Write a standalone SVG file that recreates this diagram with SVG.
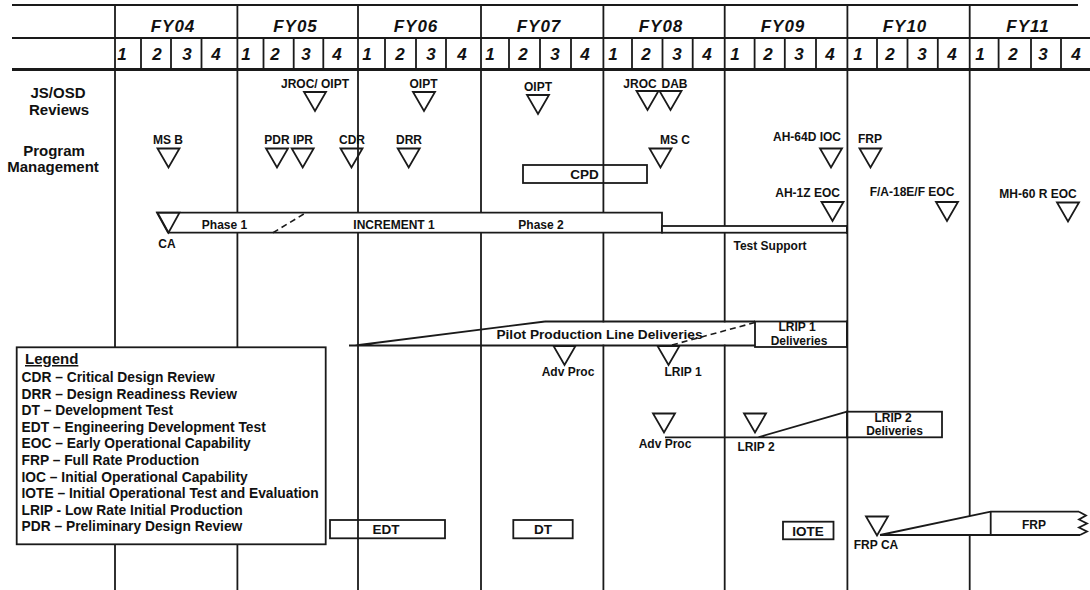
<svg xmlns="http://www.w3.org/2000/svg" width="1090" height="590" viewBox="0 0 1090 590">
<style>
.ln{stroke:#1a1a1a;stroke-width:1.8;fill:none}
.wf{stroke:#1a1a1a;stroke-width:1.8;fill:#fff}
.tri{stroke:#1a1a1a;stroke-width:1.8;fill:none}
.dash{stroke:#1a1a1a;stroke-width:1.6;fill:none;stroke-dasharray:6 4}
text{font-family:"Liberation Sans",Arial,sans-serif;font-weight:bold;fill:#111}
.s{font-size:12px;text-anchor:middle}
.m{font-size:13.5px;text-anchor:middle}
.fy{font-size:17px;font-style:italic;text-anchor:middle;letter-spacing:1px}
.q{font-size:17px;font-style:italic;text-anchor:middle}
.side{font-size:15px;text-anchor:middle}
.lg{font-size:13.8px}
</style>
<defs>
<path id="tri" class="tri" d="M-11,0 H11 L0,19 Z"/>
</defs>
<rect width="1090" height="590" fill="#fff"/>
<g id="grid" class="ln">
<line x1="12" y1="5" x2="1078" y2="5" stroke-width="2"/>
<line x1="12" y1="38" x2="1090" y2="38" stroke-width="2.2"/>
<line x1="12" y1="69.5" x2="1090" y2="69.5" stroke-width="3"/>
<line x1="115" y1="5" x2="115" y2="590"/>
<line x1="237.4" y1="5" x2="237.4" y2="590"/>
<line x1="358" y1="5" x2="358" y2="590"/>
<line x1="481" y1="5" x2="481" y2="590"/>
<line x1="603.4" y1="5" x2="603.4" y2="590"/>
<line x1="724.7" y1="5" x2="724.7" y2="590"/>
<line x1="847.4" y1="5" x2="847.4" y2="590"/>
<line x1="969.7" y1="5" x2="969.7" y2="590"/>
<path d="M141,38V69 M171,38V69 M201.5,38V69 M263.5,38V69 M293.7,38V69 M323.3,38V69 M385,38V69 M416,38V69 M446,38V69 M509,38V69 M540,38V69 M571,38V69 M632,38V69 M662.5,38V69 M692.7,38V69 M754.6,38V69 M784.8,38V69 M816,38V69 M877,38V69 M907.5,38V69 M937.8,38V69 M998.6,38V69 M1031,38V69 M1061,38V69"/>
</g>
<g id="header">
<text class="fy" x="173" y="32">FY04</text>
<text class="fy" x="295.5" y="32">FY05</text>
<text class="fy" x="416" y="32">FY06</text>
<text class="fy" x="539" y="32">FY07</text>
<text class="fy" x="661" y="32">FY08</text>
<text class="fy" x="783" y="32">FY09</text>
<text class="fy" x="905" y="32">FY10</text>
<text class="fy" x="1028" y="32">FY11</text>
<text class="q" y="59.5"><tspan x="122">1</tspan><tspan x="157">2</tspan><tspan x="187">3</tspan><tspan x="216">4</tspan><tspan x="246">1</tspan><tspan x="275">2</tspan><tspan x="306">3</tspan><tspan x="337">4</tspan><tspan x="367">1</tspan><tspan x="400">2</tspan><tspan x="431">3</tspan><tspan x="462">4</tspan><tspan x="490">1</tspan><tspan x="523">2</tspan><tspan x="555">3</tspan><tspan x="585">4</tspan><tspan x="613">1</tspan><tspan x="646">2</tspan><tspan x="677">3</tspan><tspan x="707">4</tspan><tspan x="735">1</tspan><tspan x="768">2</tspan><tspan x="799">3</tspan><tspan x="830">4</tspan><tspan x="858">1</tspan><tspan x="890">2</tspan><tspan x="922">3</tspan><tspan x="952">4</tspan><tspan x="980">1</tspan><tspan x="1013">2</tspan><tspan x="1043">3</tspan><tspan x="1076">4</tspan></text>
<text class="side" x="58" y="98">JS/OSD</text>
<text class="side" x="59" y="115">Reviews</text>
<text class="side" x="54" y="155.5">Program</text>
<text class="side" x="53" y="172">Management</text>
</g>
<g id="increment1">
<polygon class="wf" points="157,212.7 662,212.7 662,232.7 168,232.7"/>
<path class="tri" d="M157.5,212.7 H179.5 L168.5,232.7 Z"/>
<text class="s" x="167" y="247.5">CA</text>
<text class="s" x="224.5" y="228.5">Phase 1</text>
<text class="s" x="394" y="228.5">INCREMENT 1</text>
<text class="s" x="541" y="228.5">Phase 2</text>
</g>
<g id="test-support">
<rect class="wf" x="662" y="226" width="185" height="6.7"/>
<line class="ln" x1="847" y1="225" x2="847" y2="234" stroke-width="3"/>
<text class="s" x="770" y="249.5">Test Support</text>
</g>
<g id="js-osd-reviews">
<use href="#tri" x="315" y="92"/><text class="s" x="315" y="88">JROC/ OIPT</text>
<use href="#tri" x="424" y="92"/><text class="s" x="423.5" y="87.5">OIPT</text>
<use href="#tri" x="538" y="95"/><text class="s" x="538" y="91">OIPT</text>
<use href="#tri" x="647.5" y="91"/><text class="s" x="640" y="87.5">JROC</text>
<use href="#tri" x="670.5" y="91"/><text class="s" x="674.5" y="87.5">DAB</text>
</g>
<g id="program-management">
<use href="#tri" x="168.5" y="148.5"/><text class="s" x="168" y="143.5">MS B</text>
<use href="#tri" x="277" y="148.5"/><text class="s" x="277" y="143.5">PDR</text>
<use href="#tri" x="302.7" y="148.5"/><text class="s" x="303" y="143.5">IPR</text>
<use href="#tri" x="351.5" y="148.5"/><text class="s" x="352" y="143.5">CDR</text>
<use href="#tri" x="408.7" y="148.5"/><text class="s" x="409" y="143.5">DRR</text>
<use href="#tri" x="660.5" y="148.5"/><text class="s" x="675" y="143.5">MS C</text>
<use href="#tri" x="831" y="148.5"/><text class="s" x="807" y="141">AH-64D IOC</text>
<use href="#tri" x="870.5" y="148.5"/><text class="s" x="870" y="142.5">FRP</text>
<use href="#tri" x="832.5" y="202"/><text class="s" x="807.6" y="197">AH-1Z EOC</text>
<use href="#tri" x="947" y="202"/><text class="s" x="912" y="196">F/A-18E/F EOC</text>
<use href="#tri" x="1068" y="202.5"/><text class="s" x="1038" y="198">MH-60 R EOC</text>
</g>
<g id="cpd">
<rect class="ln" x="523" y="165" width="124" height="18"/>
<text class="m" x="584.5" y="179">CPD</text>
</g>
<g id="pilot-production">
<rect x="545" y="322.4" width="210" height="22.2" fill="#fff"/>
<path class="ln" d="M545,321.5 H755"/>
<text class="m" x="599.5" y="339" style="font-size:13.7px">Pilot Production Line Deliveries</text>
</g>
<g id="lrip1-deliveries">
<rect class="wf" x="755" y="321.5" width="92" height="25.5"/>
<line class="ln" x1="847" y1="320.5" x2="847" y2="348" stroke-width="3"/>
<text class="s" x="797" y="330.5">LRIP 1</text>
<text class="s" x="799" y="345">Deliveries</text>
</g>
<g id="adv-proc-1"><use href="#tri" x="564.5" y="346"/><text class="s" x="568" y="375.5">Adv Proc</text></g>
<g id="lrip1"><use href="#tri" x="668.5" y="346"/><text class="s" x="683" y="375.5">LRIP 1</text></g>
<g id="adv-proc-2"><use href="#tri" x="664" y="413.5"/><text class="s" x="665" y="447.5">Adv Proc</text></g>
<g id="lrip2"><use href="#tri" x="755" y="413.5"/><text class="s" x="756" y="451">LRIP 2</text></g>
<g id="lrip2-deliveries">
<rect class="wf" x="847" y="411.7" width="95" height="25.6"/>
<line class="ln" x1="847.4" y1="410.7" x2="847.4" y2="438.3" stroke-width="3"/>
<text class="s" x="893" y="421.5">LRIP 2</text>
<text class="s" x="894.5" y="435">Deliveries</text>
</g>
<g id="frp">
<polygon points="880,535 990.7,511.7 990.7,535" fill="#fff"/>
<rect x="990.7" y="512.5" width="88" height="21.7" fill="#fff"/>
<path class="ln" d="M880,535 H1080 M880,535 L990.7,511.7 H1079 M990.7,511.7 V535 M1079,511.7 L1086,515.5 L1079,519.5 L1087,523.5 L1079,527.5 L1087,531.5 L1080,535"/>
<text class="s" x="1034" y="528.5">FRP</text>
</g>
<g id="frp-ca"><use href="#tri" x="877" y="516.5"/><text class="s" x="876" y="548.5">FRP CA</text></g>
<g id="edt"><rect class="ln" x="330" y="520" width="115" height="18.3"/><text class="m" x="386" y="534">EDT</text></g>
<g id="dt"><rect class="ln" x="513.3" y="520" width="59.4" height="18.3"/><text class="m" x="543" y="534">DT</text></g>
<g id="iote"><rect class="ln" x="783" y="521.7" width="50.5" height="17.6"/><text class="m" x="808" y="536">IOTE</text></g>
<g id="connectors">
<path class="dash" d="M273,232.7 L305,213.3"/>
<path class="ln" d="M349,345.5 H755 M355,345.5 L545,321.5"/>
<path class="dash" d="M672,345 L755,322.5"/>
<path class="ln" d="M665,437.3 H847 M758,437.3 L847,411.7"/>
</g>
<g id="legend">
<rect class="wf" x="16.7" y="347.3" width="309" height="197" stroke-width="2"/>
<text x="25" y="364" style="font-size:15px;text-decoration:underline">Legend</text>
<text class="lg" x="21.5" y="382">CDR – Critical Design Review</text>
<text class="lg" x="21.5" y="398.6">DRR – Design Readiness Review</text>
<text class="lg" x="21.5" y="415.2">DT – Development Test</text>
<text class="lg" x="21.5" y="431.8">EDT – Engineering Development Test</text>
<text class="lg" x="21.5" y="448.4">EOC – Early Operational Capability</text>
<text class="lg" x="21.5" y="465">FRP – Full Rate Production</text>
<text class="lg" x="21.5" y="481.6">IOC – Initial Operational Capability</text>
<text class="lg" x="21.5" y="498.2">IOTE – Initial Operational Test and Evaluation</text>
<text class="lg" x="21.5" y="514.8">LRIP - Low Rate Initial Production</text>
<text class="lg" x="21.5" y="531.4">PDR – Preliminary Design Review</text>
</g>
</svg>
